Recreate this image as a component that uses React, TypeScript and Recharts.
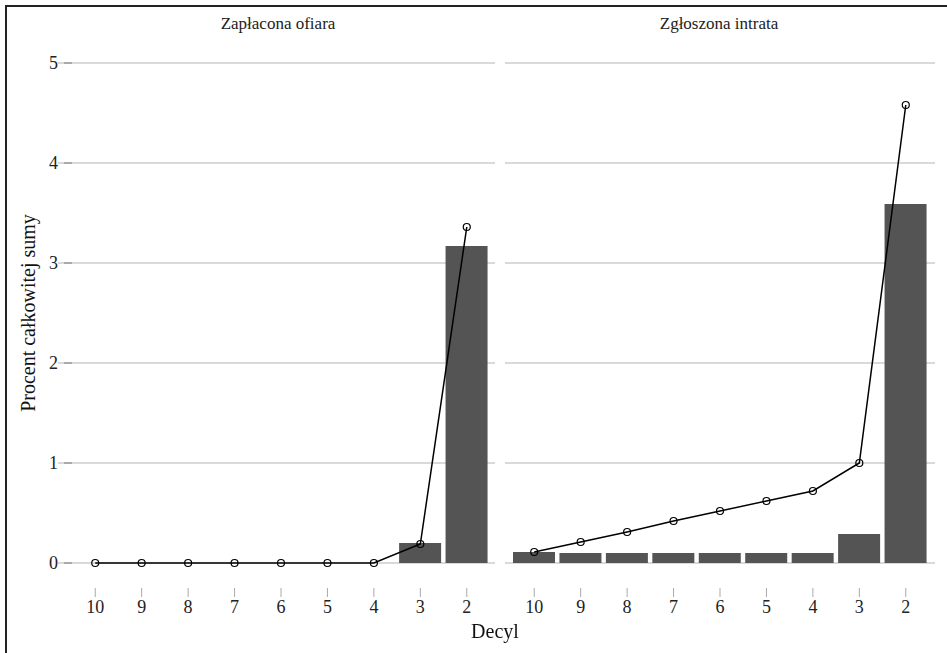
import React from "react";
import {
  ComposedChart,
  Bar,
  Line,
  XAxis,
  YAxis,
  CartesianGrid,
} from "recharts";

const deciles = ["10", "9", "8", "7", "6", "5", "4", "3", "2"];
const paidBars = [0, 0, 0, 0, 0, 0, 0, 0.2, 3.17];
const paidLine = [0, 0, 0, 0, 0, 0, 0, 0.19, 3.36];
const declaredBars = [0.11, 0.1, 0.1, 0.1, 0.1, 0.1, 0.1, 0.29, 3.59];
const declaredLine = [0.11, 0.21, 0.31, 0.42, 0.52, 0.62, 0.72, 1.0, 4.58];
const yTicks = [0, 1, 2, 3, 4, 5];

const paidData = deciles.map((d, i) => ({ decile: d, bar: paidBars[i], line: paidLine[i] }));
const declaredData = deciles.map((d, i) => ({ decile: d, bar: declaredBars[i], line: declaredLine[i] }));

const FONT = "'Liberation Serif', 'Times New Roman', serif";

const XTick = (props: any) => {
  const { x, y, payload } = props;
  return (
    <g>
      <line x1={x} x2={x} y1={y + 17} y2={y + 26} stroke="#aaa" strokeWidth={1} />
      <text x={x} y={y + 42} textAnchor="middle" style={{ fontFamily: FONT, fontSize: 18 }} fill="#222">
        {payload.value}
      </text>
    </g>
  );
};

const YTick = (props: any) => {
  const { x, y, payload } = props;
  return (
    <g>
      <line x1={x + 14} x2={x + 22} y1={y} y2={y} stroke="#aaa" strokeWidth={2} />
      <text x={x + 8} y={y + 6} textAnchor="end" style={{ fontFamily: FONT, fontSize: 18 }} fill="#222">
        {payload.value}
      </text>
    </g>
  );
};

const Dot = (props: any) => {
  const { cx, cy } = props;
  return <circle cx={cx} cy={cy} r={3.5} fill="none" stroke="#000" strokeWidth={1.2} />;
};

function Panel({ data, withY, width, margin, padding }: any) {
  return (
    <ComposedChart width={width} height={653} data={data} margin={margin}>
      <CartesianGrid horizontal vertical={false} stroke="#cccccc" strokeWidth={1.3} />
      <XAxis
        dataKey="decile"
        axisLine={false}
        tickLine={false}
        height={60}
        padding={padding}
        tick={<XTick />}
        interval={0}
      />
      <YAxis
        domain={[0, 5]}
        ticks={yTicks}
        axisLine={false}
        tickLine={false}
        hide={!withY}
        width={58}
        tick={<YTick />}
      />
      <Bar dataKey="bar" fill="#545454" barSize={42} isAnimationActive={false} />
      <Line
        dataKey="line"
        type="linear"
        stroke="#000"
        strokeWidth={1.5}
        dot={<Dot />}
        activeDot={false}
        isAnimationActive={false}
      />
    </ComposedChart>
  );
}

export default function App() {
  return (
    <div style={{ position: "fixed", left: 0, top: 0, width: 947, height: 653, background: "#fff", fontFamily: FONT }}>
      <div style={{ position: "absolute", left: 5, top: 5, right: -10, bottom: -10, borderLeft: "2px solid #222", borderTop: "2px solid #222" }} />
      <div style={{ position: "absolute", left: 0, top: 0 }}>
        <Panel data={paidData} withY width={500} margin={{ top: 63, right: 5, bottom: 30, left: 0 }} padding={{ left: 14, right: 5 }} />
      </div>
      <div style={{ position: "absolute", left: 500, top: 0 }}>
        <Panel data={declaredData} withY={false} width={447} margin={{ top: 63, right: 12, bottom: 30, left: 5 }} padding={{ left: 6, right: 6 }} />
      </div>
      <div style={{ position: "absolute", left: 58, width: 440, top: 14, textAlign: "center", fontSize: 17, color: "#222" }}>
        Zapłacona ofiara
      </div>
      <div style={{ position: "absolute", left: 505, width: 428, top: 14, textAlign: "center", fontSize: 17, color: "#222" }}>
        Zgłoszona intrata
      </div>
      <div style={{ position: "absolute", left: 0, width: 990, top: 620, textAlign: "center", fontSize: 20, color: "#111" }}>
        Decyl
      </div>
      <div
        style={{
          position: "absolute",
          left: 28,
          top: 313,
          transform: "translate(-50%, -50%) rotate(-90deg)",
          whiteSpace: "nowrap",
          fontSize: 20,
          color: "#111",
        }}
      >
        Procent całkowitej sumy
      </div>
    </div>
  );
}
